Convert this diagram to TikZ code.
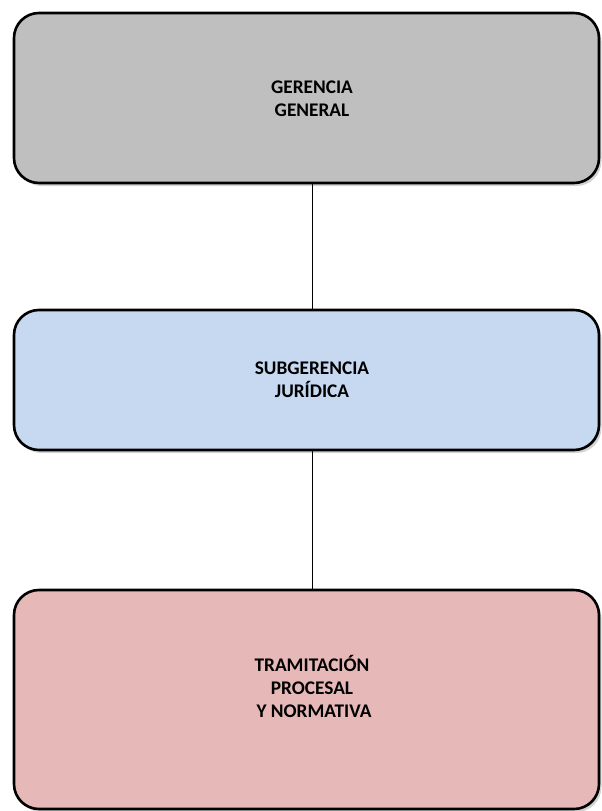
\documentclass[tikz,border=0pt]{standalone}
\usepackage{fontspec}
\setmainfont{Carlito}
\usetikzlibrary{shadows}

\definecolor{grisgerencia}{HTML}{BFBFBF}
\definecolor{azulsub}{HTML}{C6D9F1}
\definecolor{rosatram}{HTML}{E6B9B8}

\tikzset{
  caja/.style={rectangle, rounded corners=25pt, draw=black, line width=2.6pt,
    minimum width=585pt, inner sep=0pt,
    drop shadow={shadow xshift=2.5pt, shadow yshift=-3pt, opacity=0.35}},
  rotulo/.style={align=center, font=\fontsize{19.3}{23}\selectfont\bfseries}
}

\begin{document}
\begin{tikzpicture}[x=1pt, y=1pt]
\useasboundingbox (0,0) rectangle (602,-811);

\node[caja, fill=grisgerencia, minimum height=170pt] (gerencia) at (306.5,-98) {};
\node[caja, fill=azulsub, minimum height=140pt] (subgerencia) at (306.5,-380) {};
\node[caja, fill=rosatram, minimum height=219pt] (tramitacion) at (306.5,-699.5) {};

\node[rotulo] (txtgerencia) at (312,-99) {GERENCIA\\GENERAL};
\node[rotulo] (txtsub) at (312,-380) {SUBGERENCIA\\JUR\'IDICA};
\node[rotulo] (txttram) at (312,-686) {TRAMITACI\'ON\\PROCESAL\\\hspace{4pt}Y NORMATIVA};

\draw[line width=1pt] ([xshift=5.5pt]gerencia.south) -- ([xshift=5.5pt]subgerencia.north);
\draw[line width=1pt] ([xshift=5.5pt]subgerencia.south) -- ([xshift=5.5pt]tramitacion.north);
\end{tikzpicture}
\end{document}
